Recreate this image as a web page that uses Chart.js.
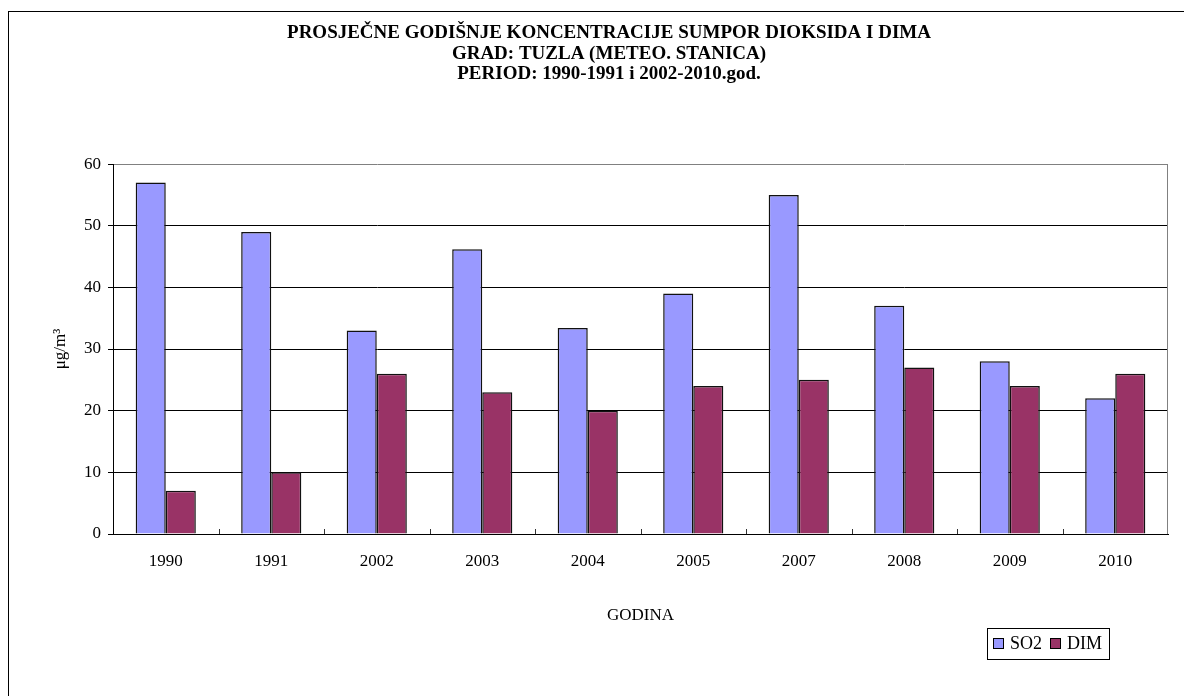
<!DOCTYPE html>
<html>
<head>
<meta charset="utf-8">
<script src="https://cdn.jsdelivr.net/npm/chart.js@4.4.0/dist/chart.umd.min.js"></script>
<style>
    body { margin: 0; background: #fff; }
    #wrap { position: relative; width: 1184px; height: 696px; overflow: hidden; }
    #frame { position: absolute; left: 8px; top: 11px; width: 1300px; height: 800px; border: 1px solid #000; pointer-events: none; }
</style>
</head>
<body>
<div id="wrap">
    <canvas id="chart" width="1184" height="696"></canvas>
    <div id="frame"></div>
</div>
<script>
var years = ["1990", "1991", "2002", "2003", "2004", "2005", "2007", "2008", "2009", "2010"];
var so2 = [57, 49, 33, 46.2, 33.4, 39, 55, 37, 28, 22];
var dim = [7, 10, 26, 23, 20, 24, 25, 27, 24, 26];
var seriesNames = ["SO2", "DIM"];
var seriesColors = ["#9999FF", "#993366"];
var titleLines = [
    "PROSJEČNE GODIŠNJE KONCENTRACIJE SUMPOR DIOKSIDA I DIMA",
    "GRAD: TUZLA (METEO. STANICA)",
    "PERIOD: 1990-1991 i 2002-2010.god."
];
var yMin = 0, yMax = 60, yStep = 10;

var serif = '"Liberation Serif", "Times New Roman", serif';

// gray line on the right side of the plot area
var plotFrame = {
    id: 'plotFrame',
    beforeDatasetsDraw: function (chart) {
        var a = chart.chartArea, ctx = chart.ctx;
        ctx.save();
        ctx.strokeStyle = "#808080";
        ctx.lineWidth = 1;
        ctx.beginPath();
        ctx.moveTo(a.right - 0.5, a.top);
        ctx.lineTo(a.right - 0.5, a.bottom);
        ctx.stroke();
        ctx.restore();
    }
};

// small tick marks between categories, pointing up into the plot
var innerTicks = {
    id: 'innerTicks',
    afterDatasetsDraw: function (chart) {
        var x = chart.scales.x, ctx = chart.ctx, b = chart.chartArea.bottom;
        ctx.save();
        ctx.strokeStyle = "#333";
        ctx.lineWidth = 1;
        for (var i = 1; i < years.length; i++) {
            var px = Math.round((x.getPixelForTick(i - 1) + x.getPixelForTick(i)) / 2) + 0.5;
            ctx.beginPath();
            ctx.moveTo(px, b);
            ctx.lineTo(px, b - 5);
            ctx.stroke();
        }
        ctx.restore();
    }
};

// legend with a box around it, bottom right
var boxLegend = {
    id: 'boxLegend',
    afterDraw: function (chart) {
        var ctx = chart.ctx;
        var sets = chart.data.datasets;
        var right = 1109, top = 628, h = 31;
        var sq = 11, padL = 6, padR = 7, gapText = 6, gapItem = 8;
        ctx.save();
        ctx.font = '18px ' + serif;
        var w = padL + padR;
        sets.forEach(function (ds, i) {
            w += sq + gapText + ctx.measureText(ds.label).width;
            if (i < sets.length - 1) w += gapItem;
        });
        var left = right - w;
        ctx.strokeStyle = "#000";
        ctx.lineWidth = 1;
        ctx.strokeRect(Math.round(left) + 0.5, top + 0.5, Math.round(w), h);
        var cx = left + padL, cy = top + h / 2;
        ctx.textBaseline = "middle";
        ctx.textAlign = "left";
        sets.forEach(function (ds) {
            ctx.fillStyle = ds.backgroundColor;
            ctx.fillRect(Math.round(cx), Math.round(cy - sq / 2), sq, sq);
            ctx.strokeRect(Math.round(cx) + 0.5, Math.round(cy - sq / 2) + 0.5, sq - 1, sq - 1);
            cx += sq + gapText;
            ctx.fillStyle = "#000";
            ctx.fillText(ds.label, cx, cy + 1);
            cx += ctx.measureText(ds.label).width + gapItem;
        });
        ctx.restore();
    }
};

var ctx = document.getElementById("chart").getContext("2d");
new Chart(ctx, {
    type: "bar",
    data: {
        labels: years,
        datasets: [
            {
                label: seriesNames[0],
                data: so2,
                backgroundColor: seriesColors[0],
                borderColor: "#111",
                borderWidth: 1.5
            },
            {
                label: seriesNames[1],
                data: dim,
                backgroundColor: seriesColors[1],
                borderColor: "#111",
                borderWidth: 1.5
            }
        ]
    },
    options: {
        responsive: false,
        animation: false,
        devicePixelRatio: 1,
        layout: { padding: { left: 50, right: 16, top: 0, bottom: 0 } },
        datasets: {
            bar: { barPercentage: 1, categoryPercentage: 0.57 }
        },
        plugins: {
            legend: { display: false },
            tooltip: { enabled: false },
            title: {
                display: true,
                text: titleLines,
                color: "#000",
                font: { family: serif, size: 19, weight: "bold", lineHeight: 1.08 },
                padding: { top: 23, bottom: 79.5 }
            }
        },
        scales: {
            x: {
                grid: { display: false },
                border: { display: true, color: "#000", width: 1 },
                ticks: { color: "#000", font: { family: serif, size: 17 }, padding: 9 },
                title: {
                    display: true,
                    text: "GODINA",
                    color: "#000",
                    font: { family: serif, size: 17, lineHeight: 1.2 },
                    padding: { top: 0, bottom: 70 }
                },
                afterFit: function (scale) { scale.height = 162; }
            },
            y: {
                min: yMin,
                max: yMax,
                ticks: { stepSize: yStep, color: "#000", font: { family: serif, size: 17 }, padding: 7 },
                grid: {
                    color: function (c) { return c.tick && c.tick.value === yMax ? "#808080" : "#000"; },
                    tickColor: "#000",
                    tickLength: 5,
                    lineWidth: 1
                },
                border: { display: true, color: "#000", width: 1 },
                title: {
                    display: true,
                    text: "μg/m³",
                    color: "#000",
                    font: { family: serif, size: 17, lineHeight: 1.2 },
                    padding: { top: 0, bottom: 0 }
                },
                afterFit: function (scale) { scale.width = 63; }
            }
        }
    },
    plugins: [plotFrame, innerTicks, boxLegend]
});
</script>
</body>
</html>
